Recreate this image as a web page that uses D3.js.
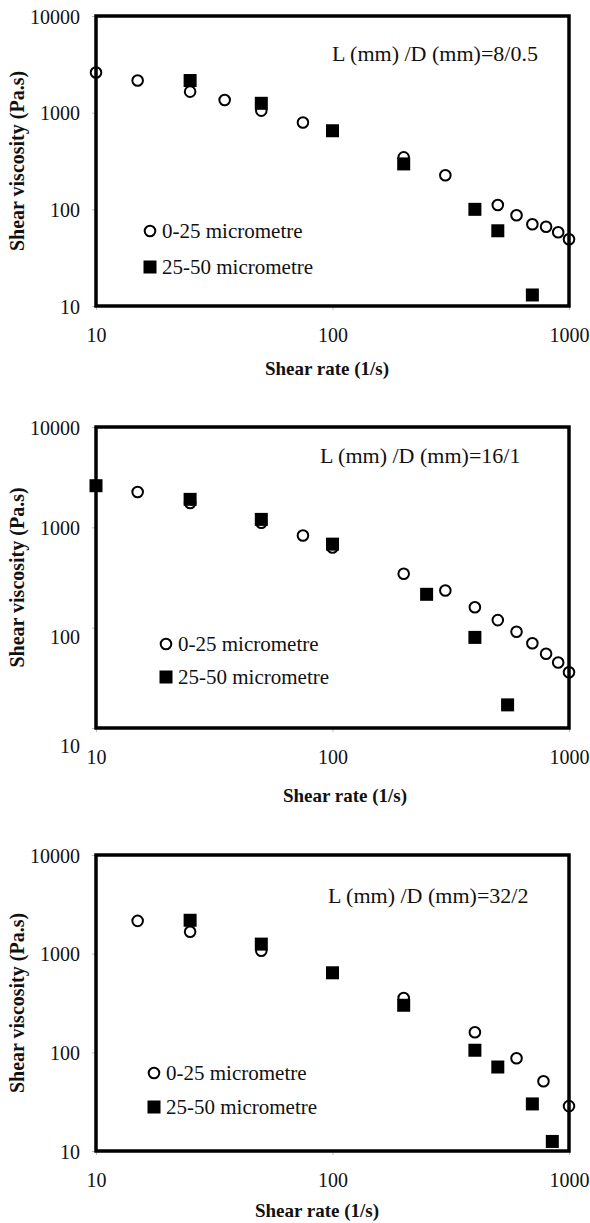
<!DOCTYPE html>
<html lang="en">
<head>
<meta charset="utf-8">
<title>Shear viscosity vs shear rate</title>
<script src="https://d3js.org/d3.v7.min.js"></script>
<style>
  body { margin: 0; background: #fff; }
  svg { display: block; }
</style>
</head>
<body>
<div id="chart"></div>
<script>
// tick values
const xTicks = [10, 100, 1000];
const yTicks = [10, 100, 1000, 10000];
const seriesNames = ["0-25 micrometre", "25-50 micrometre"];

// panel 1: L/D = 8/0.5
const fine1 = [[10, 2600], [15, 2150], [25, 1650], [35, 1350], [50, 1050], [75, 790],
  [200, 345], [300, 225], [500, 111], [600, 87], [700, 70], [800, 66], [900, 58], [1000, 49]];
const coarse1 = [[25, 2150], [50, 1250], [100, 650], [200, 295], [400, 100], [500, 60], [700, 13]];

// panel 2: L/D = 16/1
const fine2 = [[15, 2250], [25, 1750], [50, 1110], [75, 830], [100, 630], [200, 345],
  [300, 235], [400, 160], [500, 119], [600, 91], [700, 70], [800, 55], [900, 45], [1000, 36]];
const coarse2 = [[10, 2600], [25, 1900], [50, 1200], [100, 680], [250, 215], [400, 80], [550, 17]];

// panel 3: L/D = 32/2
const fine3 = [[15, 2150], [25, 1670], [50, 1070], [200, 355], [400, 160], [600, 87], [780, 51], [1000, 28.5]];
const coarse3 = [[25, 2180], [50, 1250], [100, 640], [200, 300], [400, 105], [500, 71], [700, 30], [850, 12.5]];

const notes = ["L (mm) /D (mm)=8/0.5", "L (mm) /D (mm)=16/1", "L (mm) /D (mm)=32/2"];

// layout of each panel (pixels)
const panels = [
  { fine: fine1, coarse: coarse1, note: notes[0], top: 16, bottom: 306,
    noteX: 332, noteY: 53, legX: 150, legY: [231, 267], titleX: 327, titleY: 368, nudge: {} },
  { fine: fine2, coarse: coarse2, note: notes[1], top: 427, bottom: 728,
    noteX: 320, noteY: 455, legX: 166, legY: [644, 677], titleX: 345, titleY: 795, nudge: { 100: 9, 10: 17 } },
  { fine: fine3, coarse: coarse3, note: notes[2], top: 855, bottom: 1151,
    noteX: 328, noteY: 895, legX: 154, legY: [1073, 1107], titleX: 317, titleY: 1210, nudge: {} }
];

const W = 590, H = 1223;
const left = 96, right = 569;
const FONT = "'Liberation Serif', 'Times New Roman', serif";

const svg = d3.select("#chart").append("svg")
  .attr("width", W).attr("height", H)
  .attr("viewBox", `0 0 ${W} ${H}`)
  .attr("font-family", FONT);

svg.append("rect").attr("width", W).attr("height", H).attr("fill", "#fff");

const R = 5.3, S = 13;

function circle(g, x, y) {
  g.append("circle").attr("cx", x).attr("cy", y).attr("r", R)
    .attr("fill", "#fff").attr("stroke", "#000").attr("stroke-width", 2);
}
function square(g, x, y) {
  g.append("rect").attr("x", x - S / 2).attr("y", y - S / 2)
    .attr("width", S).attr("height", S).attr("fill", "#000");
}

panels.forEach(p => {
  const x = d3.scaleLog().domain([10, 1000]).range([left, right]);
  const y = d3.scaleLog().domain([10, 10000]).range([p.bottom, p.top]);
  const g = svg.append("g");

  // axes (ticks + labels)
  const yAxis = g.append("g")
    .attr("transform", `translate(${left},0)`)
    .call(d3.axisLeft(y).tickValues(yTicks).tickFormat(d3.format("d")).tickSize(4).tickPadding(12));
  yAxis.selectAll(".tick text").attr("dy", d => (p.nudge[d] || 0) + 7);

  const xAxis = g.append("g")
    .attr("transform", `translate(0,${p.bottom})`)
    .call(d3.axisBottom(x).tickValues(xTicks).tickFormat(d3.format("d")).tickSize(4).tickPadding(18));

  [yAxis, xAxis].forEach(a => a.attr("font-family", FONT).attr("font-size", 20));
  g.selectAll(".tick text").attr("fill", "#111");
  g.selectAll(".domain").remove();
  g.selectAll(".tick line").attr("stroke", "#bbb");

  // data: circles below, squares on top
  p.fine.forEach(d => circle(g, x(d[0]), y(d[1])));
  p.coarse.forEach(d => square(g, x(d[0]), y(d[1])));

  // frame
  g.append("rect")
    .attr("x", left).attr("y", p.top)
    .attr("width", right - left).attr("height", p.bottom - p.top)
    .attr("fill", "none").attr("stroke", "#000").attr("stroke-width", 3.5);

  // note
  g.append("text")
    .attr("x", p.noteX).attr("y", p.noteY).attr("dy", "0.35em")
    .attr("font-size", 22).attr("fill", "#111")
    .text(p.note);

  // legend
  circle(g, p.legX, p.legY[0]);
  square(g, p.legX, p.legY[1]);
  seriesNames.forEach((n, i) => {
    g.append("text")
      .attr("x", p.legX + 12).attr("y", p.legY[i]).attr("dy", "0.35em")
      .attr("font-size", 21).attr("fill", "#111")
      .text(n);
  });

  // axis titles
  g.append("text")
    .attr("x", p.titleX).attr("y", p.titleY).attr("dy", "0.35em")
    .attr("text-anchor", "middle")
    .attr("font-size", 19).attr("font-weight", "bold").attr("fill", "#111")
    .text("Shear rate (1/s)");

  g.append("text")
    .attr("transform", `translate(17,${(p.top + p.bottom) / 2}) rotate(-90)`)
    .attr("dy", "0.35em")
    .attr("text-anchor", "middle")
    .attr("font-size", 20).attr("font-weight", "bold").attr("fill", "#111")
    .text("Shear viscosity (Pa.s)");
});
</script>
</body>
</html>
